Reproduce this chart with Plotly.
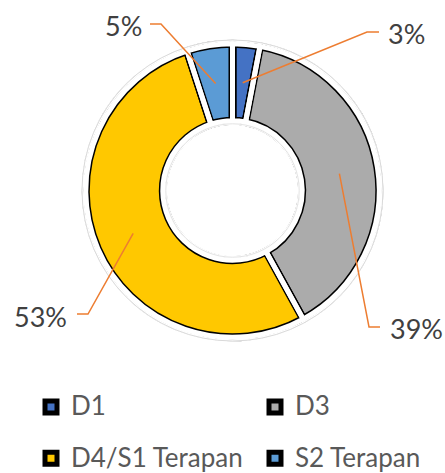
import math
import plotly.graph_objects as go

# ---------------- data ----------------
categories = ["D1", "D3", "D4/S1 Terapan", "S2 Terapan"]
values = [3, 39, 53, 5]
colors = ["#4472C4", "#ABABAB", "#FFC800", "#5B9BD5"]

# ---------------- layout constants (pixels) ----------------
W, H = 445, 473
CX, CY = 232.5, 190.5       # donut centre
R = 146.75                  # donut outer radius
HOLE = 0.475
WB, WW = 8, 5               # black / white slice stroke widths
LEADER = "#ED7D31"
TEXT_DARK = "#404040"
LEGEND_TEXT = "#595959"
FONT = "Lato"

# leader-line elbows / ends and label anchors (layout, px)
label_layout = {
    "D1": dict(elbow=(367, 32), end=(379, 32), text=(386, 33), side="left"),
    "D3": dict(elbow=(369, 327), end=(380, 327), text=(388, 328), side="left"),
    "D4/S1 Terapan": dict(elbow=(88, 314), end=(77, 314), text=(69, 316), side="right"),
    "S2 Terapan": dict(elbow=(161, 24), end=(150, 24), text=(144, 25), side="right"),
}


def px(x):
    return x / W


def py(y):
    return 1 - y / H


domain = dict(
    x=[px(CX - R), px(CX + R)],
    y=[py(CY + R), py(CY - R)],
)

legend_labels = [
    f"<span style='font-size:26px;baseline-shift:6px'>{c}</span>" for c in categories
]

fig = go.Figure()
# bottom pie: colours with thick black outline
fig.add_trace(go.Pie(
    labels=legend_labels,
    values=values,
    sort=False,
    direction="clockwise",
    rotation=0,
    hole=HOLE,
    domain=domain,
    textinfo="none",
    marker=dict(colors=colors, line=dict(color="black", width=[WB] * len(values))),
    hoverinfo="skip",
    showlegend=True,
))
# top pie: transparent fill, white separators
fig.add_trace(go.Pie(
    labels=legend_labels,
    values=values,
    sort=False,
    direction="clockwise",
    rotation=0,
    hole=HOLE,
    domain=domain,
    textinfo="none",
    marker=dict(colors=["rgba(0,0,0,0)"] * len(values),
                line=dict(color="white", width=WW)),
    hovertext=[f"{c}: {v}%" for c, v in zip(categories, values)],
    hoverinfo="text",
    showlegend=False,
))

shapes = []


def circle(radius, color, width):
    return dict(type="circle", xref="paper", yref="paper", layer="above",
                x0=px(CX - radius), x1=px(CX + radius),
                y0=py(CY + radius), y1=py(CY - radius),
                line=dict(color=color, width=width), fillcolor="rgba(0,0,0,0)")


r_in = R * HOLE
shapes.append(circle(R + 3.25, "white", 2.6))
shapes.append(circle(R + 3.75, "#D9D9D9", 1))
shapes.append(circle(r_in - 3.25, "white", 2.6))
shapes.append(circle(r_in - 3.0, "#E3E3E3", 1))

annotations = []
total = sum(values)
cum = 0.0
mid_r = (R + r_in) / 2
for cat, v in zip(categories, values):
    ang = (cum + v / 2) / total * 2 * math.pi
    cum += v
    sx = CX + mid_r * math.sin(ang)
    sy = CY - mid_r * math.cos(ang)
    lay = label_layout[cat]
    ex, ey = lay["elbow"]
    fx, fy = lay["end"]
    shapes.append(dict(
        type="path", xref="paper", yref="paper", layer="above",
        path=f"M {px(sx)},{py(sy)} L {px(ex)},{py(ey)} L {px(fx)},{py(fy)}",
        line=dict(color=LEADER, width=1.5),
    ))
    tx, ty = lay["text"]
    annotations.append(dict(
        x=px(tx), y=py(ty), xref="paper", yref="paper",
        text=f"{round(v / total * 100)}%", showarrow=False,
        xanchor=lay["side"], yanchor="middle",
        font=dict(family=FONT, size=27, color=TEXT_DARK),
    ))

fig.update_layout(
    width=W, height=H,
    margin=dict(l=0, r=0, t=0, b=0, autoexpand=False),
    paper_bgcolor="white", plot_bgcolor="white",
    shapes=shapes, annotations=annotations,
    font=dict(family=FONT),
    legend=dict(
        orientation="h", x=px(31), xanchor="left", y=py(376.5), yanchor="top",
        entrywidth=179, entrywidthmode="pixels",
        font=dict(family=FONT, size=37, color=LEGEND_TEXT),
        traceorder="normal", bgcolor="rgba(0,0,0,0)",
    ),
)

fig.write_html("out.html", config={"displayModeBar": False},
               post_script="document.body.style.margin='0';")
